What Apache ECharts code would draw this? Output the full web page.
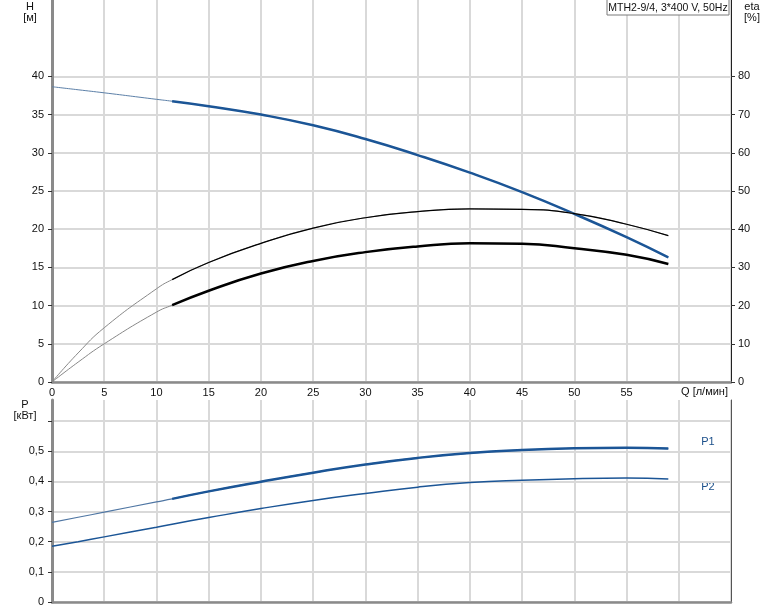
<!DOCTYPE html>
<html>
<head>
<meta charset="utf-8">
<script src="https://cdn.jsdelivr.net/npm/echarts@6/dist/echarts.min.js"></script>
<style>
html,body{margin:0;padding:0;background:#fff;}
#c{width:774px;height:611px;}
</style>
</head>
<body>
<div id="c"></div>
<script>
// ---- data ----
const Q      = [0, 2.5, 5, 10, 11.5, 15, 20, 25, 30, 35, 40, 45, 50, 55, 59];
const H      = [38.65, 38.25, 37.85, 37.0, 36.75, 36.1, 35.0, 33.6, 31.8, 29.7, 27.4, 24.85, 22.0, 18.95, 16.3];
const ETA_A  = [0, 7.6, 14.2, 24.4, 26.8, 31.3, 36.3, 40.3, 43.0, 44.6, 45.3, 45.2, 44.1, 41.3, 38.3];
const ETA_B  = [0, 5.2, 10.0, 18.3, 20.1, 23.9, 28.4, 31.7, 34.0, 35.5, 36.3, 36.2, 35.0, 33.3, 30.9];
const P1     = [0.264, 0.281, 0.298, 0.332, 0.342, 0.367, 0.399, 0.429, 0.456, 0.478, 0.494, 0.504, 0.510, 0.512, 0.509];
const P2     = [0.185, 0.200, 0.216, 0.248, 0.258, 0.280, 0.310, 0.337, 0.360, 0.381, 0.396, 0.404, 0.409, 0.411, 0.408];
const DUTY_START = 4; // index where the thick (operating) part begins (Q = 11.5)
const H_TICKS   = [0, 5, 10, 15, 20, 25, 30, 35, 40];
const ETA_TICKS = [0, 10, 20, 30, 40, 50, 60, 70, 80];
const P_TICKS   = [0, 0.1, 0.2, 0.3, 0.4, 0.5, 0.6];
const Q_TICKS   = [0, 5, 10, 15, 20, 25, 30, 35, 40, 45, 50, 55];
const TITLE = 'MTH2-9/4, 3*400 V, 50Hz';

const pts = (ys, from) => Q.map((q, i) => [q, ys[i]]).slice(from || 0);

const FONT = '"Liberation Sans", Arial, sans-serif';
const TXT = '#111';
const GRID = '#d9d9d9';
const AX = '#8a8a8a';
const BLUE = '#1b5596';

const chart = echarts.init(document.getElementById('c'), null, {renderer: 'canvas'});

const fmtComma = v => (v > 0.55 ? '' : (v === 0 ? '0' : v.toFixed(1).replace('.', ',')));
const SM = {smooth: 0.5, symbol: 'none'};

chart.setOption({
  animation: false,
  backgroundColor: '#fff',
  textStyle: {fontFamily: FONT},
  grid: [
    {left: 52, top: 0, width: 679, height: 382},
    {left: 52, top: 400, width: 679, height: 202}
  ],
  xAxis: [
    {
      type: 'value', gridIndex: 0, min: 0, max: 65, interval: 5,
      axisLine: {show: true, onZero: false, lineStyle: {color: AX, width: 2.5}},
      axisTick: {show: false},
      axisLabel: {margin: 5, color: TXT, fontSize: 11, fontFamily: FONT, customValues: Q_TICKS,
        formatter: v => String(v)},
      splitLine: {show: true, lineStyle: {color: GRID, width: 2}}
    },
    {
      type: 'value', gridIndex: 1, min: 0, max: 65, interval: 5,
      axisLine: {show: true, onZero: false, lineStyle: {color: AX, width: 2.5}},
      axisTick: {show: false},
      axisLabel: {show: false},
      splitLine: {show: true, lineStyle: {color: GRID, width: 2}}
    }
  ],
  yAxis: [
    {
      type: 'value', gridIndex: 0, min: 0, max: 50, interval: 5,
      axisLine: {show: true, onZero: false, lineStyle: {color: AX, width: 3}},
      axisTick: {show: true, length: 4, customValues: H_TICKS, lineStyle: {color: '#333'}},
      axisLabel: {margin: 8, color: TXT, fontSize: 11, fontFamily: FONT, customValues: H_TICKS,
        formatter: v => String(v)},
      splitLine: {show: true, lineStyle: {color: GRID, width: 2}}
    },
    {
      type: 'value', gridIndex: 0, position: 'right', min: 0, max: 100, interval: 10,
      axisLine: {show: true, onZero: false, lineStyle: {color: '#222', width: 1}},
      axisTick: {show: true, length: 4, customValues: ETA_TICKS, lineStyle: {color: '#333'}},
      axisLabel: {margin: 7, color: TXT, fontSize: 11, fontFamily: FONT, customValues: ETA_TICKS,
        formatter: v => String(v)},
      splitLine: {show: false}
    },
    {
      type: 'value', gridIndex: 1, min: 0, max: 0.67, interval: 0.1,
      axisLine: {show: true, onZero: false, lineStyle: {color: AX, width: 3}},
      axisTick: {show: true, length: 4, customValues: P_TICKS, lineStyle: {color: '#333'}},
      axisLabel: {margin: 8, color: TXT, fontSize: 11, fontFamily: FONT, customValues: P_TICKS, formatter: fmtComma},
      splitLine: {show: true, lineStyle: {color: GRID, width: 2}}
    },
    {
      type: 'value', gridIndex: 1, position: 'right', min: 0, max: 0.67,
      axisLine: {show: true, onZero: false, lineStyle: {color: '#555', width: 1}},
      axisTick: {show: false}, axisLabel: {show: false}, splitLine: {show: false}
    }
  ],
  series: [
    // H curve
    Object.assign({type: 'line', xAxisIndex: 0, yAxisIndex: 0, data: pts(H),
      lineStyle: {color: '#5c80a8', width: 1}}, SM),
    Object.assign({type: 'line', xAxisIndex: 0, yAxisIndex: 0, data: pts(H, DUTY_START),
      lineStyle: {color: BLUE, width: 2.5}}, SM),
    // efficiency curves (right axis)
    Object.assign({type: 'line', xAxisIndex: 0, yAxisIndex: 1, data: pts(ETA_A),
      lineStyle: {color: '#888', width: 1}}, SM),
    Object.assign({type: 'line', xAxisIndex: 0, yAxisIndex: 1, data: pts(ETA_A, DUTY_START),
      lineStyle: {color: '#000', width: 1.2}}, SM),
    Object.assign({type: 'line', xAxisIndex: 0, yAxisIndex: 1, data: pts(ETA_B),
      lineStyle: {color: '#888', width: 1}}, SM),
    Object.assign({type: 'line', xAxisIndex: 0, yAxisIndex: 1, data: pts(ETA_B, DUTY_START),
      lineStyle: {color: '#000', width: 2.5}}, SM),
    // power curves
    Object.assign({type: 'line', xAxisIndex: 1, yAxisIndex: 2, data: pts(P1),
      lineStyle: {color: '#4f76a3', width: 1.2}}, SM),
    Object.assign({type: 'line', xAxisIndex: 1, yAxisIndex: 2, data: pts(P1, DUTY_START),
      lineStyle: {color: BLUE, width: 2.5}}, SM),
    Object.assign({type: 'line', xAxisIndex: 1, yAxisIndex: 2, data: pts(P2),
      lineStyle: {color: BLUE, width: 1.5}}, SM)
  ],
  graphic: [
    {type: 'rect', shape: {x: 607, y: -1, width: 122, height: 16},
      style: {fill: '#fff', stroke: '#7a7a7a', lineWidth: 1}, z: 100},
    {type: 'text', x: 668, y: 8, z: 101,
      style: {text: TITLE, fill: TXT, font: '10.5px ' + FONT, align: 'center', verticalAlign: 'middle'}},
    {type: 'text', x: 30, y: 7, style: {text: 'H', fill: TXT, font: '11px ' + FONT, align: 'center', verticalAlign: 'middle'}},
    {type: 'text', x: 30, y: 18, style: {text: '[м]', fill: TXT, font: '11px ' + FONT, align: 'center', verticalAlign: 'middle'}},
    {type: 'text', x: 752, y: 7, style: {text: 'eta', fill: TXT, font: '11px ' + FONT, align: 'center', verticalAlign: 'middle'}},
    {type: 'text', x: 752, y: 18, style: {text: '[%]', fill: TXT, font: '11px ' + FONT, align: 'center', verticalAlign: 'middle'}},
    {type: 'text', x: 25, y: 405, style: {text: 'P', fill: TXT, font: '11px ' + FONT, align: 'center', verticalAlign: 'middle'}},
    {type: 'text', x: 25, y: 416, style: {text: '[кВт]', fill: TXT, font: '11px ' + FONT, align: 'center', verticalAlign: 'middle'}},
    {type: 'text', x: 728, y: 392, style: {text: 'Q [л/мин]', fill: TXT, font: '11px ' + FONT, align: 'right', verticalAlign: 'middle'}},
    {type: 'text', x: 708, y: 442, style: {text: 'P1', fill: '#1b4f8a', font: '11px ' + FONT, align: 'center', verticalAlign: 'middle'}},
    {type: 'text', x: 708, y: 487, style: {text: 'P2', fill: '#1b4f8a', font: '11px ' + FONT, align: 'center', verticalAlign: 'middle'}}
  ]
});
</script>
</body>
</html>
